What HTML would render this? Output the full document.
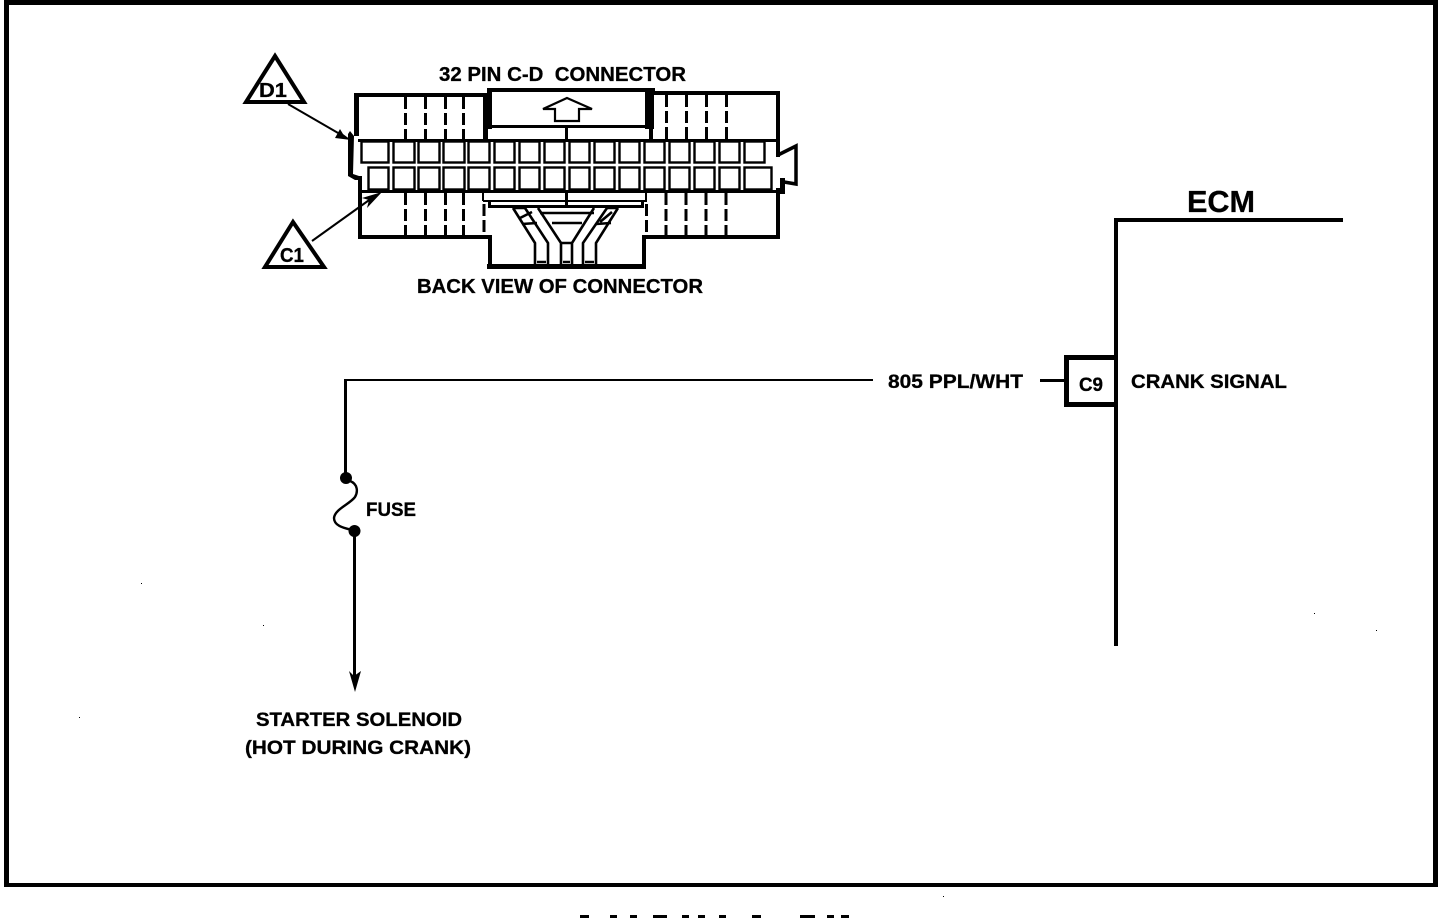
<!DOCTYPE html>
<html>
<head>
<meta charset="utf-8">
<style>
html,body{margin:0;padding:0;background:#fff;width:1456px;height:918px;overflow:hidden}
svg{display:block}
text{font-family:"Liberation Sans",sans-serif;font-weight:bold;fill:#000;stroke:#000;stroke-width:.3}
</style>
</head>
<body>
<svg width="1456" height="918" viewBox="0 0 1456 918" xmlns="http://www.w3.org/2000/svg">
<rect width="1456" height="918" fill="#fff"/>

<!-- outer frame -->
<g fill="#000">
<rect x="6" y="0" width="1432" height="5"/>
<rect x="4" y="0" width="5" height="887"/>
<rect x="1433" y="0" width="5" height="887"/>
<rect x="4" y="883" width="1434" height="4"/>
<!-- cut off text at the bottom -->
<rect x="580" y="915" width="9" height="3"/><rect x="610" y="915" width="7" height="3"/>
<rect x="630" y="915" width="7" height="3"/><rect x="653" y="915" width="14" height="3"/>
<rect x="682" y="915" width="7" height="3"/><rect x="698" y="915" width="7" height="3"/>
<rect x="719" y="915" width="7" height="3"/><rect x="752" y="915" width="9" height="3"/>
<rect x="800" y="915" width="15" height="3"/><rect x="827" y="915" width="7" height="3"/>
<rect x="841" y="915" width="8" height="3"/>
<!-- specks -->
<rect x="141" y="583" width="1" height="1"/><rect x="263" y="625" width="1" height="1"/>
<rect x="79" y="717" width="1" height="1"/><rect x="1314" y="613" width="1" height="1"/>
<rect x="1376" y="630" width="1" height="1"/><rect x="943" y="896" width="1" height="1"/>
</g>

<!-- connector cells -->
<g fill="none" stroke="#000" stroke-width="2.4">
<rect x="361.5" y="141.5" width="27" height="21"/>
<rect x="393.5" y="141.5" width="21" height="21"/><rect x="418.5" y="141.5" width="21" height="21"/>
<rect x="443.5" y="141.5" width="21" height="21"/><rect x="468.5" y="141.5" width="21" height="21"/>
<rect x="494.5" y="141.5" width="20" height="21"/><rect x="519.5" y="141.5" width="20" height="21"/>
<rect x="544.5" y="141.5" width="20" height="21"/><rect x="569.5" y="141.5" width="20" height="21"/>
<rect x="594.5" y="141.5" width="20" height="21"/><rect x="619.5" y="141.5" width="20" height="21"/>
<rect x="644.5" y="141.5" width="20" height="21"/><rect x="669.5" y="141.5" width="20" height="21"/>
<rect x="694.5" y="141.5" width="20" height="21"/><rect x="719.5" y="141.5" width="20" height="21"/>
<rect x="744.5" y="141.5" width="20" height="21"/>

<rect x="368.5" y="167.5" width="20" height="22"/>
<rect x="393.5" y="167.5" width="21" height="22"/><rect x="418.5" y="167.5" width="21" height="22"/>
<rect x="443.5" y="167.5" width="21" height="22"/><rect x="468.5" y="167.5" width="21" height="22"/>
<rect x="494.5" y="167.5" width="20" height="22"/><rect x="519.5" y="167.5" width="20" height="22"/>
<rect x="544.5" y="167.5" width="20" height="22"/><rect x="569.5" y="167.5" width="20" height="22"/>
<rect x="594.5" y="167.5" width="20" height="22"/><rect x="619.5" y="167.5" width="20" height="22"/>
<rect x="644.5" y="167.5" width="20" height="22"/><rect x="669.5" y="167.5" width="20" height="22"/>
<rect x="694.5" y="167.5" width="20" height="22"/><rect x="719.5" y="167.5" width="20" height="22"/>
<rect x="744.5" y="167.5" width="27" height="22"/>
</g>

<!-- connector housing -->
<g fill="#000">
<!-- upper left -->
<rect x="354" y="93" width="5" height="43"/>
<rect x="354" y="93" width="132" height="4"/>
<rect x="483" y="93" width="4" height="48"/>
<!-- horizontal rails -->
<rect x="358" y="139" width="421" height="3"/>
<rect x="358" y="190" width="421" height="3"/>
<!-- left tab -->
<polygon points="350,131 354,136 353,174 359,176 361,176 361,180 355,180 348,176 348,134"/>
<rect x="358" y="176" width="4" height="62"/>
<!-- lower left -->
<rect x="358" y="235" width="134" height="4"/>
<rect x="488" y="235" width="4" height="33"/>
<rect x="487" y="264" width="158" height="5"/>
<rect x="642" y="235" width="4" height="34"/>
<rect x="642" y="235" width="138" height="4"/>
<!-- upper centre -->
<rect x="487" y="88" width="168" height="4"/>
<rect x="487" y="88" width="5" height="41"/>
<rect x="645" y="88" width="9" height="41"/>
<rect x="487" y="125" width="162" height="3"/>
<rect x="485" y="128" width="3" height="12"/>
<rect x="649" y="128" width="4" height="13"/>
<rect x="565" y="126" width="3" height="14"/>
<!-- upper right -->
<rect x="652" y="91" width="128" height="4"/>
<rect x="776" y="91" width="4" height="66"/>
<!-- lower right -->
<rect x="776" y="188" width="4" height="50"/>
<rect x="780" y="178" width="5" height="16"/>
<!-- lower centre strip -->
<rect x="482" y="192" width="2" height="9"/>
<rect x="645" y="192" width="2" height="9"/>
<rect x="483" y="200" width="164" height="2"/>
<rect x="489" y="205" width="154" height="3"/>
<rect x="565" y="191" width="3" height="16"/>
<rect x="488" y="200" width="3" height="8"/>
<rect x="641" y="200" width="3" height="8"/>
</g>

<!-- right latch -->
<polyline points="778,155 796,146 796,184 784,182" fill="none" stroke="#000" stroke-width="3.5"/>

<!-- arrow -->
<polygon points="567,98 592,109 579,109 579,121 555,121 555,109 543,109" fill="#fff" stroke="#000" stroke-width="2.2"/>

<!-- dashes -->
<g stroke="#000" stroke-width="3" stroke-dasharray="12,4" fill="none">
<path d="M405.500 97V139M425.500 97V139M445.500 97V139M463.500 97V139"/>
<path d="M405.500 193V236M425.500 193V236M445.500 193V236M463.500 193V236M484 204V236"/>
<path d="M666.500 95V139M686.500 95V139M706.500 95V139M726.500 95V139"/>
<path d="M646.500 204V236M666 193V236M686 193V236M706 193V236M726 193V236"/>
</g>

<!-- Y channels -->
<g fill="none" stroke="#000" stroke-width="2.6">
<polyline points="513,208 535,243 535,264"/>
<polyline points="525,208 548,243 548,264"/>
<polyline points="538,208 561,243 561,264"/>
<polyline points="594,208 572,243 572,264"/>
<polyline points="607,208 583,243 583,264"/>
<polyline points="618,208 596,243 596,264"/>
<path d="M513,208H525M607,208H618M540,213H594M552,223H582M561,243H572M520,218L532,212M612,212L600,222M522,224L537,223M596,224L611,223"/>
<path d="M537,262H546M563,262H570M585,262H594"/>
</g>

<!-- triangles -->
<g fill="#fff" stroke="#000" stroke-width="4" stroke-linejoin="miter">
<polygon points="275,56 304,102 246,102"/>
<polygon points="293,222 324,267 265,267"/>
</g>
<text x="259" y="97" font-size="20" textLength="28" lengthAdjust="spacingAndGlyphs">D1</text>
<text x="280" y="262" font-size="20" textLength="24" lengthAdjust="spacingAndGlyphs">C1</text>

<!-- leader arrows -->
<g stroke="#000" stroke-width="2" fill="none">
<line x1="288" y1="104" x2="345" y2="137"/>
<line x1="312" y1="241" x2="372" y2="198"/>
</g>
<polygon points="351,140 335,138 340,129 343,134" fill="#000"/>
<polygon points="382,192 367,208 369,200 362,198" fill="#000"/>

<!-- labels -->
<text x="439" y="81" font-size="20" textLength="247" lengthAdjust="spacingAndGlyphs" xml:space="preserve">32 PIN C-D  CONNECTOR</text>
<text x="417" y="293" font-size="20" textLength="286" lengthAdjust="spacingAndGlyphs">BACK VIEW OF CONNECTOR</text>
<text x="1187" y="212" font-size="31" textLength="68" lengthAdjust="spacingAndGlyphs">ECM</text>
<text x="888" y="388" font-size="19" textLength="135" lengthAdjust="spacingAndGlyphs">805 PPL/WHT</text>
<text x="1131" y="388" font-size="19" textLength="156" lengthAdjust="spacingAndGlyphs">CRANK SIGNAL</text>
<text x="1079" y="391" font-size="19" textLength="24" lengthAdjust="spacingAndGlyphs">C9</text>
<text x="366" y="516" font-size="19" textLength="50" lengthAdjust="spacingAndGlyphs">FUSE</text>
<text x="256" y="726" font-size="19" textLength="206" lengthAdjust="spacingAndGlyphs">STARTER SOLENOID</text>
<text x="245" y="754" font-size="19" textLength="226" lengthAdjust="spacingAndGlyphs">(HOT DURING CRANK)</text>

<!-- wiring -->
<g fill="#000">
<rect x="345" y="379" width="528" height="2"/>
<rect x="344" y="379" width="3" height="99"/>
<rect x="353" y="531" width="3" height="145"/>
<circle cx="346" cy="478" r="6"/>
<circle cx="354.500" cy="531" r="6"/>
<polygon points="355,692 349,671 354,676 361,671"/>
<rect x="1040" y="379" width="24" height="3"/>
<!-- C9 box -->
<rect x="1064" y="355" width="52" height="5"/>
<rect x="1064" y="355" width="5" height="52"/>
<rect x="1064" y="402" width="52" height="5"/>
<!-- ECM -->
<rect x="1114" y="218" width="4" height="428"/>
<rect x="1114" y="218" width="229" height="4"/>
</g>
<path d="M350,481C358,484 358,492 355,497C350,504 335,509 334,518C334,526 344,528 352,530" fill="none" stroke="#000" stroke-width="2.400"/>
</svg>
</body>
</html>
